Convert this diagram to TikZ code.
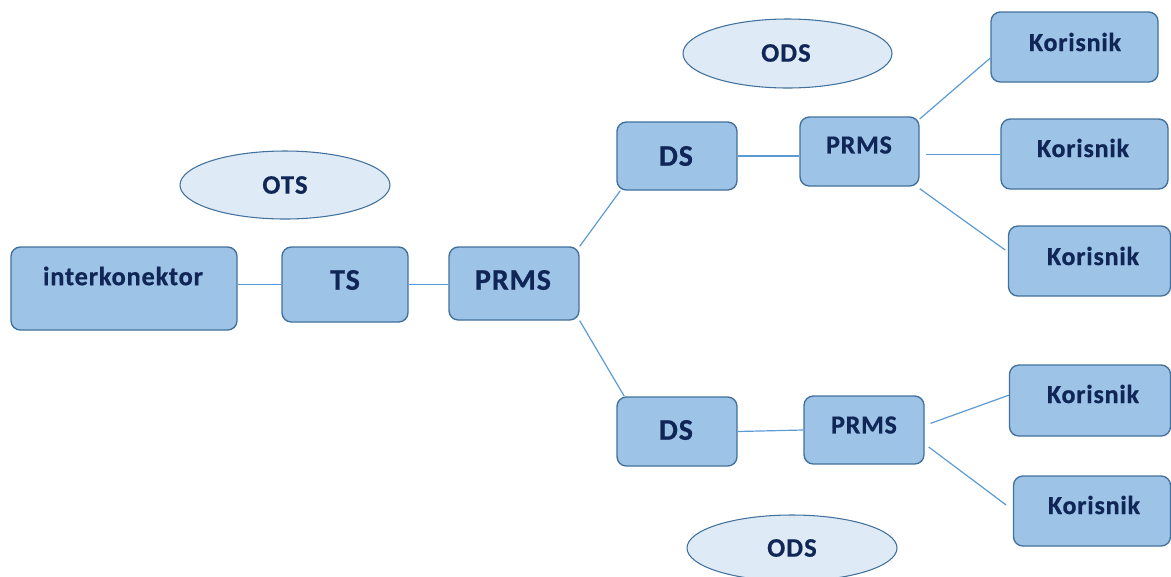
\documentclass[tikz,border=0pt]{standalone}
\usepackage{fontspec}
\setmainfont{Carlito}
\usetikzlibrary{shapes.geometric}
\definecolor{boxfill}{HTML}{9DC3E6}
\definecolor{boxline}{HTML}{41719C}
\definecolor{ellfill}{HTML}{DEEBF7}
\definecolor{txt}{HTML}{0F2657}
\definecolor{conn}{HTML}{5B9BD5}
\tikzset{
  box/.style={draw=boxline, line width=1pt, fill=boxfill, rounded corners=7pt, inner sep=0pt},
  oval/.style={ellipse, draw=boxline, line width=0.8pt, fill=ellfill, inner sep=0pt},
  lbl/.style={text=txt, inner sep=0pt},
  big/.style={lbl, font=\bfseries\addfontfeatures{LetterSpace=3,FakeBold=0.6}\fontsize{22.5}{24}\selectfont},
  mid/.style={lbl, font=\bfseries\addfontfeatures{LetterSpace=3,FakeBold=0.6}\fontsize{19.5}{21}\selectfont},
  sml/.style={lbl, font=\bfseries\addfontfeatures{LetterSpace=3,FakeBold=0.6}\fontsize{19.8}{21}\selectfont},
  ell/.style={lbl, font=\bfseries\addfontfeatures{LetterSpace=4,FakeBold=0.6}\fontsize{20}{21}\selectfont},
  conn/.style={draw=conn, line width=0.9pt}
}
\begin{document}
\begin{tikzpicture}[x=0.75pt, y=-0.75pt]
\useasboundingbox (0,0) rectangle (1171,576);
\clip (0,0) rectangle (1171,576);
% boxes
\node[box, minimum width=169.5pt, minimum height=62.25pt] (ik) at (124,288.5) {};
\node[sml] (ikt) at (123,276) {interkonektor};
\node[box, minimum width=94.5pt, minimum height=56.25pt] (ts) at (345,284.5) {};
\node[big] (tst) at (345,280) {TS};
\node[box, minimum width=97.5pt, minimum height=54.75pt] (pr) at (514,283.5) {};
\node[big] (prt) at (513,280) {PRMS};
\node[box, minimum width=90pt, minimum height=51pt] (dsT) at (677,156) {};
\node[big] (dsTt) at (676,156) {DS};
\node[box, minimum width=89.25pt, minimum height=51.75pt] (prT) at (859.5,151.5) {};
\node[mid] (prTt) at (859,145) {PRMS};
\node[box, minimum width=90pt, minimum height=51.75pt] (dsB) at (677,431.5) {};
\node[big] (dsBt) at (676,430) {DS};
\node[box, minimum width=90pt, minimum height=51pt] (prB) at (864,430) {};
\node[mid] (prBt) at (864,425) {PRMS};
\node[box, minimum width=125.25pt, minimum height=52.5pt] (k1) at (1074.5,47) {};
\node[mid] (k1t) at (1075,42) {Korisnik};
\node[box, minimum width=125.25pt, minimum height=52.5pt] (k2) at (1084.5,154) {};
\node[mid] (k2t) at (1083,148) {Korisnik};
\node[box, minimum width=121.5pt, minimum height=52.5pt] (k3) at (1089.5,261) {};
\node[mid] (k3t) at (1093,256) {Korisnik};
\node[box, minimum width=120.75pt, minimum height=53.25pt] (k4) at (1090,400.5) {};
\node[mid] (k4t) at (1093,394) {Korisnik};
\node[box, minimum width=117.75pt, minimum height=52.5pt] (k5) at (1092,511) {};
\node[mid] (k5t) at (1094,505) {Korisnik};
% ellipses
\node[oval, minimum width=157.5pt, minimum height=51pt] (ots) at (285,185) {};
\node[ell] (otst) at (285,185) {OTS};
\node[oval, minimum width=156.75pt, minimum height=51.75pt] (odsT) at (787.5,53.5) {};
\node[ell] (odsTt) at (786,53) {ODS};
\node[oval, minimum width=157.5pt, minimum height=49.5pt] (odsB) at (792,548) {};
\node[ell] (odsBt) at (792,548) {ODS};
% connectors
\draw[conn] (ts.west) -- (ts.west -| ik.east);
\draw[conn] (ts.east) -- (ts.east -| pr.west);
\draw[conn] (pr.north east) -- ([xshift=3pt]dsT.south west);
\draw[conn] (pr.south east) -- ([xshift=6pt]dsB.north west);
\draw[conn] (dsT.east) -- (dsT.east -| prT.west);
\draw[conn] (dsB.east) -- (prB.west);
\draw[conn] ([yshift=-2pt]prT.north east) -- ([yshift=-8.25pt]k1.west);
\draw[conn] ([xshift=4.5pt,yshift=-2pt]prT.east) -- ([yshift=-2pt]prT.east -| k2.west);
\draw[conn] ([yshift=-1.5pt]prT.south east) -- ([xshift=-2pt,yshift=8.25pt]k3.west);
\draw[conn] ([xshift=4.5pt,yshift=5pt]prB.east) -- ([yshift=4pt]k4.west);
\draw[conn] ([xshift=3pt,yshift=-12.75pt]prB.east) -- ([xshift=-5pt,yshift=4.5pt]k5.west);
\end{tikzpicture}
\end{document}
